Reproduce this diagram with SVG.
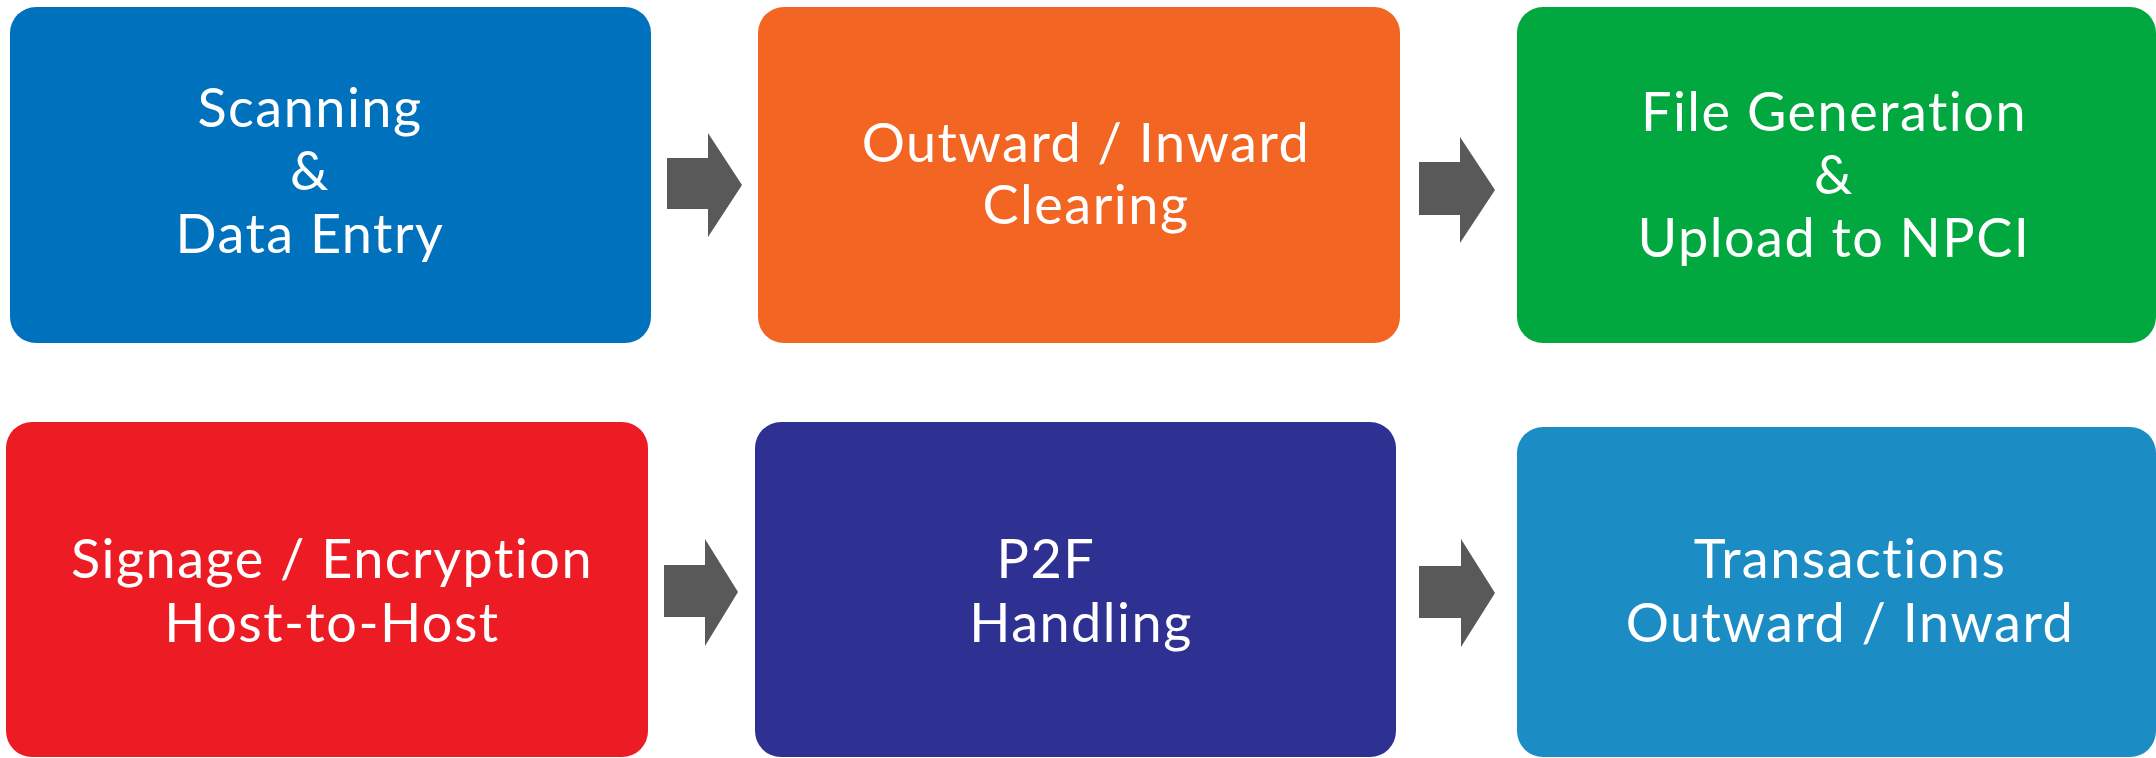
<svg xmlns="http://www.w3.org/2000/svg" width="2156" height="758" viewBox="0 0 2156 758">
<style>
.t{font-family:"Lato","Noto Sans",sans-serif;font-size:54px;letter-spacing:1.5px;fill:#ffffff;text-anchor:middle}
.ar{fill:#595959}
</style>
<rect width="2156" height="758" fill="#ffffff"/>
<g id="connectors">
<path class="ar" d="M667,158 H708 V133 L742,185 L708,237 V209 H667 Z"/>
<path class="ar" d="M1419,162 H1460 V137 L1495,190 L1460,243 V215 H1419 Z"/>
<path class="ar" d="M664,565 H705 V539 L738,592 L705,646 V617 H664 Z"/>
<path class="ar" d="M1419,566 H1461 V539 L1495,593 L1461,647 V618 H1419 Z"/>
</g>
<g id="n1"><rect x="10" y="7" width="641" height="336" rx="26" fill="#0071BC"/>
<text class="t" x="310" y="127">Scanning</text><text class="t" x="310" y="190">&amp;</text><text class="t" x="310" y="253">Data Entry</text></g>
<g id="n2"><rect x="758" y="7" width="642" height="336" rx="26" fill="#F26522"/>
<text class="t" x="1086" y="162">Outward / Inward</text><text class="t" x="1086" y="224">Clearing</text></g>
<g id="n3"><rect x="1517" y="7" width="639" height="336" rx="26" fill="#00A83F"/>
<text class="t" x="1834" y="131">File Generation</text><text class="t" x="1834" y="194">&amp;</text><text class="t" x="1834" y="257">Upload to NPCI</text></g>
<g id="n4"><rect x="6" y="422" width="642" height="335" rx="26" fill="#ED1C24"/>
<text class="t" x="332" y="578">Signage / Encryption</text><text class="t" x="332" y="642">Host-to-Host</text></g>
<g id="n5"><rect x="755" y="422" width="641" height="335" rx="26" fill="#2E3192"/>
<text class="t" x="1046" y="578">P2F</text><text class="t" x="1081" y="642">Handling</text></g>
<g id="n6"><rect x="1517" y="427" width="639" height="330" rx="26" fill="#1B8CC4"/>
<text class="t" x="1850" y="578">Transactions</text><text class="t" x="1850" y="642">Outward / Inward</text></g>
</svg>
